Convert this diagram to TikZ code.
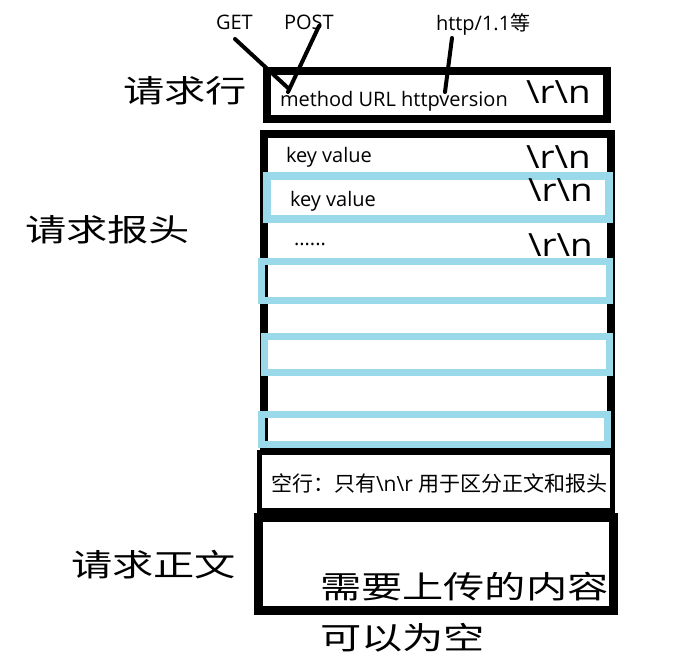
\documentclass[tikz,border=0pt]{standalone}
\usepackage{fontspec}
\setmainfont{Open Sans}
\newfontfamily\cjk{Noto Sans CJK SC}
\newfontfamily\cjkwide[FakeStretch=1.33]{Noto Sans CJK SC}
\newfontfamily\rnfont[FakeStretch=1.15]{Open Sans}
\definecolor{paintblue}{RGB}{153,217,234}
\tikzset{
  blackbox/.style={draw=black, line width=8pt},
  bluebox/.style={draw=paintblue, line width=7.5pt},
  lbl/.style={font=\fontsize{20}{24}\selectfont, anchor=base west},
  big/.style={font=\cjkwide\fontsize{31}{36}\selectfont, anchor=west},
  rn/.style={font=\rnfont\fontsize{32}{36}\selectfont, anchor=base west},
  wire/.style={line width=4pt, line cap=round}
}
\begin{document}
\begin{tikzpicture}[x=1pt,y=-1pt, every node/.style={inner sep=0pt, outer sep=0pt}]
\useasboundingbox (0,0) rectangle (676,668);
\fill[white] (0,0) rectangle (676,668);

% request line box
\draw[blackbox] (267,71) rectangle (607,119);
% header box
\draw[blackbox] (264,134) rectangle (611,446);
% blue boxes
\draw[bluebox, line width=8pt] (267,176) rectangle (609,219);
\draw[bluebox, line width=7pt] (261.5,261.5) rectangle (609.5,300.5);
\draw[bluebox, line width=7pt] (264,336) rectangle (609,372);
\draw[bluebox, line width=7pt] (261,414) rectangle (607,444);
% empty line box
\draw[black, line width=5pt] (259.5,452.5) rectangle (612.5,510.5);
% body box
\draw[black, line width=9pt] (258.5,517.5) rectangle (613.5,610.5);

% left labels
\node[big] (lreq) at (123,91) {请求行};
\node[big] (lhead) at (25,230) {请求报头};
\node[big] (lbody) at (71,565) {请求正文};

% top labels
\node[lbl] (get) at (216,30) {GET};
\node[lbl] (post) at (284,30) {POST};
\node[lbl] (http) at (436,31) {http/1.1{\cjk 等}};

% request line content
\node[lbl] (method) at (280,107) {method URL httpversion};
\node[rn] (rn0) at (526,104) {\textbackslash r\textbackslash n};

% header content
\node[lbl] (kv1) at (286,163) {key value};
\node[rn] (rn1) at (526,169) {\textbackslash r\textbackslash n};
\node[lbl] (kv2) at (290,207) {key value};
\node[rn] (rn2) at (528,201) {\textbackslash r\textbackslash n};
\node[lbl] (dots) at (294,245) {......};
\node[rn] (rn3) at (528,256) {\textbackslash r\textbackslash n};

% empty line text
\node[font=\fontsize{21}{24}\selectfont, anchor=west] (blank) at (271,483)
  {{\cjk 空行：只有}\textbackslash n\textbackslash r {\cjk 用于区分正文和报头}};

% body text
\node[big] (content) at (320,587) {需要上传的内容};
\node[big] (canempty) at (320,638) {可以为空};

% connectors
\coordinate (getend) at (235,39);
\coordinate (postend) at (319,26);
\coordinate (httpend) at (452,38);
\coordinate (mtip1) at (288,88);
\coordinate (mtip2) at (288,92);
\coordinate (vtip) at (445,92);
\draw[wire] (getend) -- (mtip1);
\draw[wire] (postend) -- (mtip2);
\draw[wire] (httpend) -- (vtip);
\end{tikzpicture}
\end{document}
